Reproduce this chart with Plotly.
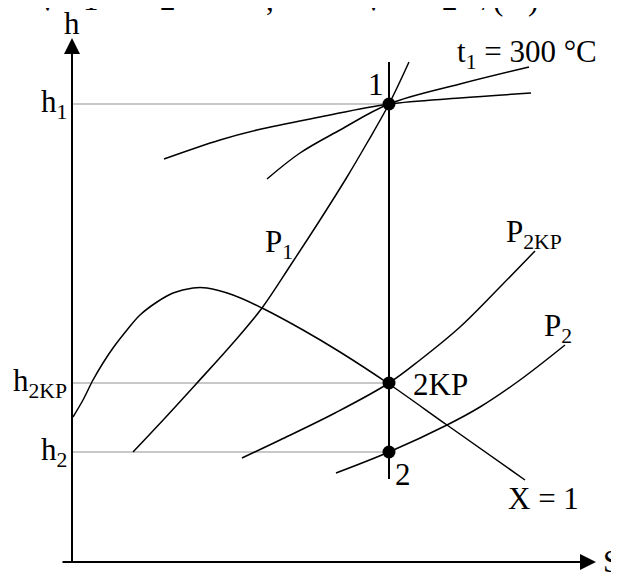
import plotly.graph_objects as go

# h-S diagram, coordinates (S to the right, h upward)
H = 574

t1_s = [164, 220, 257, 320, 389, 460, 531]
t1_h = [H - 159, H - 140, H - 130, H - 117, H - 104, H - 98, H - 93]

mid_s = [267, 300, 340, 389, 460, 529]
mid_h = [H - 179, H - 153, H - 130, H - 104, H - 84, H - 67]

p1_s = [133, 165, 197, 233, 262, 292, 320, 347, 367, 389, 409]
p1_h = [H - 452, H - 418, H - 383, H - 343, H - 308, H - 263, H - 220, H - 177, H - 143, H - 104, H - 62]

x1_s = [73, 83, 93, 103, 113, 127, 140, 157, 173, 193, 207, 233, 262, 303, 340, 389, 447, 525]
x1_h = [H - 417, H - 400, H - 380, H - 363, H - 348, H - 330, H - 315, H - 302, H - 293,
        H - 288, H - 288, H - 295, H - 308, H - 330, H - 352, H - 384, H - 425, H - 480]

p2kp_s = [242, 280, 335, 389, 420, 460, 500, 535]
p2kp_h = [H - 458, H - 440, H - 413, H - 383, H - 360, H - 327, H - 287, H - 251]

p2_s = [336, 389, 447, 480, 520, 565]
p2_h = [H - 473, H - 452, H - 425, H - 407, H - 380, H - 345]

s_const = 389
h_top, h_bottom = H - 62, H - 479

state_s = [389, 389, 389]
state_h = [H - 104, H - 383, H - 452]
state_names = ["1", "2KP", "2"]
h_levels = ["h<sub>1</sub>", "h<sub>2KP</sub>", "h<sub>2</sub>"]

s0, h0 = 72, H - 562
s_end, h_end = 596, H - 38

top_text = ["√", "1", "2", ",", "√", "2", "/", "(", ")"]
top_pos = [47, 91, 168, 270, 373, 450, 486, 498, 533]

FONT = "Liberation Serif"
FS = 31
OFF = 8  # page body margin in the browser

fig = go.Figure()

# guide lines to the h axis
for hv in state_h:
    fig.add_trace(go.Scatter(x=[s0, s_const], y=[hv, hv], mode="lines",
                             line=dict(color="#c8c8c8", width=2), hoverinfo="skip"))

for xs, ys in [(t1_s, t1_h), (mid_s, mid_h), (p1_s, p1_h), (x1_s, x1_h),
               (p2kp_s, p2kp_h), (p2_s, p2_h)]:
    fig.add_trace(go.Scatter(x=xs, y=ys, mode="lines", line_shape="spline",
                             line=dict(color="black", width=1.5)))

fig.add_trace(go.Scatter(x=[s_const, s_const], y=[h_top, h_bottom], mode="lines",
                         line=dict(color="black", width=2)))

fig.add_trace(go.Scatter(x=state_s, y=state_h, mode="markers",
                         marker=dict(color="black", size=13)))

ann = []
# axes with arrows
ann.append(dict(x=s0, y=h_end, ax=s0, ay=h0 - 1, xref="x", yref="y", axref="x", ayref="y",
                text="", showarrow=True, arrowhead=2, arrowsize=1.6, arrowwidth=2, arrowcolor="black"))
ann.append(dict(x=s_end, y=h0, ax=s0 - 11, ay=h0, xref="x", yref="y", axref="x", ayref="y",
                text="", showarrow=True, arrowhead=2, arrowsize=1.6, arrowwidth=2, arrowcolor="black"))


def label(x, y, text, xanchor="center", yanchor="middle"):
    ann.append(dict(x=x, y=y, text=text, showarrow=False, xanchor=xanchor, yanchor=yanchor,
                    font=dict(family=FONT, size=FS, color="black")))


label(72, H - 23, "h")
label(611, H - 561, "S")
label(69, state_h[0], h_levels[0], "right")
label(69, state_h[1], h_levels[1], "right")
label(69, state_h[2], h_levels[2], "right")
label(376, H - 84, state_names[0])
label(411, H - 384, state_names[1], "left")
label(403, H - 474, state_names[2])
label(455, H - 54, "t<sub>1</sub> = 300 °C", "left")
label(279, H - 244, "P<sub>1</sub>")
label(534, H - 234, "P<sub>2KP</sub>")
label(558, H - 328, "P<sub>2</sub>")
label(543, H - 498, "X = 1")
# formula cut off by the top edge
for t, p in zip(top_text, top_pos):
    label(p, H - 19, t, yanchor="bottom")

fig.update_layout(
    width=619, height=574,
    margin=dict(l=0, r=0, t=0, b=0),
    plot_bgcolor="white", paper_bgcolor="white",
    showlegend=False,
    xaxis=dict(range=[OFF, 619 + OFF], visible=False, fixedrange=True),
    yaxis=dict(range=[-OFF, H - OFF], visible=False, fixedrange=True),
    annotations=ann,
)

fig.write_html("out.html")
